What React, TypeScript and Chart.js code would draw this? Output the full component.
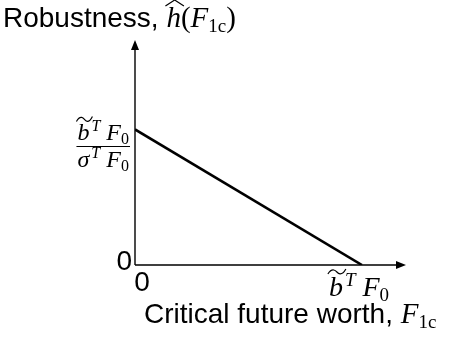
import React, { useEffect, useRef } from "react";
import { Chart, registerables } from "chart.js";

Chart.register(...registerables);

// Critical future worth, in units of b̃ᵀF₀
const worth = [0, 1];
// Robustness, in units of b̃ᵀF₀ / σᵀF₀
const robustness = [1, 0];
// Axis marks
const xTickValues = [0, 1];
const yTickValues = [0, 1];
const xMax = 1.194;
const yMax = 1.66;

const SANS = "Liberation Sans, Arial, sans-serif";
const SERIF = "Liberation Serif, Times New Roman, serif";

type Run = {
  text: string;
  font: string;
  dy?: number;
  gap?: number;
  accent?: "tilde" | "hat";
};

function runsWidth(ctx: CanvasRenderingContext2D, runs: Run[]) {
  let w = 0;
  for (const r of runs) {
    ctx.font = r.font;
    w += ctx.measureText(r.text).width + (r.gap || 0);
  }
  return w;
}

function drawAccent(ctx: CanvasRenderingContext2D, kind: string, x0: number, x1: number, y: number) {
  ctx.save();
  ctx.strokeStyle = "#000";
  ctx.lineWidth = 1.2;
  ctx.beginPath();
  if (kind === "hat") {
    ctx.moveTo(x0, y + 3);
    ctx.lineTo((x0 + x1) / 2, y - 3);
    ctx.lineTo(x1, y + 3);
  } else {
    const w = x1 - x0;
    ctx.moveTo(x0, y + 2);
    ctx.bezierCurveTo(x0 + w * 0.25, y - 5, x0 + w * 0.45, y - 1, x0 + w * 0.5, y);
    ctx.bezierCurveTo(x0 + w * 0.55, y + 1, x0 + w * 0.75, y + 5, x1, y - 3);
  }
  ctx.stroke();
  ctx.restore();
}

function drawRuns(
  ctx: CanvasRenderingContext2D,
  runs: Run[],
  x: number,
  y: number,
  align: "left" | "center" | "right",
  accentRise = 24
) {
  const w = runsWidth(ctx, runs);
  let cx = align === "left" ? x : align === "center" ? x - w / 2 : x - w;
  ctx.textAlign = "left";
  ctx.textBaseline = "alphabetic";
  ctx.fillStyle = "#000";
  for (const r of runs) {
    ctx.font = r.font;
    cx += r.gap || 0;
    const rw = ctx.measureText(r.text).width;
    ctx.fillText(r.text, cx, y + (r.dy || 0));
    if (r.accent) drawAccent(ctx, r.accent, cx - 1, cx + rw + 3, y - accentRise);
    cx += rw;
  }
  return w;
}

const it = (px: number) => `italic ${px}px ${SERIF}`;
const rm = (px: number) => `${px}px ${SERIF}`;

function product(first: string, big: number, small: number, accent?: "tilde"): Run[] {
  return [
    { text: first, font: it(big), accent },
    { text: "T", font: it(small), dy: -Math.round(big * 0.36), gap: 2 },
    { text: " F", font: it(big) },
    { text: "0", font: rm(small), dy: Math.round(big * 0.18) },
  ];
}

const F1c: Run[] = [
  { text: "F", font: it(29) },
  { text: "1c", font: rm(19), dy: 5 },
];

const TICK_FONT = `28px ${SANS}`;
const TITLE_FONT = `28px ${SANS}`;
const xTickLabels: Run[][] = [[{ text: "0", font: TICK_FONT }], product("b", 28, 19, "tilde")];

const axesPlugin = {
  id: "arrowAxes",
  afterDraw(chart: Chart) {
    const ctx = chart.ctx;
    const xs = chart.scales.x;
    const ys = chart.scales.y;
    const ox = xs.getPixelForValue(0);
    const oy = ys.getPixelForValue(0);
    const xEnd = xs.getPixelForValue(xMax);
    const yEnd = ys.getPixelForValue(yMax);
    ctx.save();
    ctx.strokeStyle = "#000";
    ctx.fillStyle = "#000";
    ctx.lineWidth = 1.4;
    ctx.beginPath();
    ctx.moveTo(ox, oy);
    ctx.lineTo(xEnd - 6, oy);
    ctx.moveTo(ox, oy);
    ctx.lineTo(ox, yEnd + 6);
    ctx.stroke();
    // arrowheads
    ctx.beginPath();
    ctx.moveTo(xEnd, oy);
    ctx.lineTo(xEnd - 10, oy - 4);
    ctx.lineTo(xEnd - 10, oy + 4);
    ctx.closePath();
    ctx.fill();
    ctx.beginPath();
    ctx.moveTo(ox, yEnd);
    ctx.lineTo(ox - 4, yEnd + 10);
    ctx.lineTo(ox + 4, yEnd + 10);
    ctx.closePath();
    ctx.fill();

    // x tick labels
    xTickValues.forEach((v, i) => {
      const px = xs.getPixelForValue(v);
      if (v === 0) drawRuns(ctx, xTickLabels[i], px + 7, oy + 26, "center");
      else drawRuns(ctx, xTickLabels[i], px - 3, oy + 31, "center");
    });

    // y tick labels
    yTickValues.forEach((v) => {
      const py = ys.getPixelForValue(v);
      if (v === 0) {
        ctx.font = TICK_FONT;
        ctx.textAlign = "right";
        ctx.textBaseline = "alphabetic";
        ctx.fillText("0", ox - 3, py + 5);
      } else {
        const right = ox - 5;
        const num = product("b", 24, 16, "tilde");
        const den = product("σ", 24, 16);
        const w = Math.max(runsWidth(ctx, num), runsWidth(ctx, den)) + 2;
        const cx = right - w / 2;
        const barY = py + 17;
        drawRuns(ctx, num, cx, barY - 6, "center", 21);
        drawRuns(ctx, den, cx, barY + 21, "center");
        ctx.lineWidth = 1.1;
        ctx.beginPath();
        ctx.moveTo(right - w, barY);
        ctx.lineTo(right, barY);
        ctx.stroke();
      }
    });

    // axis titles
    drawRuns(
      ctx,
      [{ text: "Robustness, ", font: TITLE_FONT }, { text: "h", font: it(29), accent: "hat" }, { text: "(", font: rm(29) }, ...F1c, { text: ")", font: rm(29) }],
      3,
      27,
      "left"
    );
    drawRuns(ctx, [{ text: "Critical future worth, ", font: TITLE_FONT }, ...F1c], 144, 323, "left");
    ctx.restore();
  },
};

export default function App() {
  const canvasRef = useRef<HTMLCanvasElement>(null);
  useEffect(() => {
    const canvas = canvasRef.current;
    if (!canvas) return;
    const chart = new Chart(canvas, {
      type: "line",
      data: {
        datasets: [
          {
            data: worth.map((x, i) => ({ x, y: robustness[i] })),
            borderColor: "#000",
            borderWidth: 2.6,
            pointRadius: 0,
            tension: 0,
          },
        ],
      },
      options: {
        animation: false,
        responsive: false,
        events: [],
        layout: { padding: { left: 135, right: 46, top: 40, bottom: 79 } },
        plugins: { legend: { display: false }, tooltip: { enabled: false } },
        scales: {
          x: { type: "linear", min: 0, max: xMax, display: false },
          y: { type: "linear", min: 0, max: yMax, display: false },
        },
      },
      plugins: [axesPlugin],
    });
    return () => chart.destroy();
  }, []);
  return (
    <div style={{ position: "fixed", left: 0, top: 0, width: 452, height: 344, background: "#fff" }}>
      <canvas ref={canvasRef} width={452} height={344} />
    </div>
  );
}
